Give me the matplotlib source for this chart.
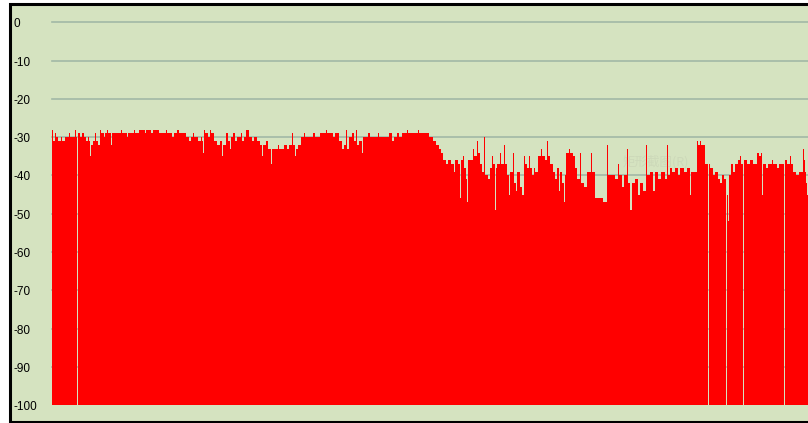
import numpy as np
import matplotlib
matplotlib.use('Agg')
import matplotlib.pyplot as plt
from matplotlib.patches import Rectangle

plt.rcParams['font.family'] = ['Liberation Sans', 'DejaVu Sans']

# signal level (dB) read off the chart as runs: (level, number of bars)
# -100 means no reading (empty column)
runs = [
    (-28, 1), (-31, 2), (-29, 1), (-30, 2), (-31, 3), (-30, 1), (-31, 3),
    (-30, 4), (-29, 1), (-30, 5), (-28, 1), (-30, 1), (-100, 1),
    (-29, 2), (-30, 2), (-29, 2), (-30, 2), (-31, 2), (-30, 1), (-31, 1),
    (-35, 1), (-32, 2), (-31, 2), (-29, 1), (-31, 2), (-32, 2),
    (-28, 1), (-29, 3), (-30, 1), (-29, 2), (-28, 1), (-29, 3), (-32, 1),
    (-29, 9), (-28, 1), (-29, 5), (-30, 1), (-29, 6), (-28, 1), (-29, 4),
    (-28, 6), (-29, 1), (-28, 5), (-29, 2), (-28, 6),
    (-29, 7), (-28, 1), (-29, 5), (-30, 2), (-29, 3), (-28, 2), (-29, 7),
    (-30, 3), (-31, 2), (-30, 2), (-29, 1), (-30, 4), (-31, 3), (-30, 1), (-31, 1),
    (-34, 1), (-28, 1), (-29, 3), (-30, 2), (-28, 1), (-29, 3),
    (-31, 3), (-32, 3), (-31, 2), (-35, 1), (-32, 3),
    (-29, 2), (-31, 2), (-33, 1), (-30, 2), (-29, 2), (-31, 2), (-30, 2),
    (-30, 2), (-29, 1), (-31, 2), (-30, 2), (-28, 3),
    (-30, 3), (-31, 2), (-30, 3), (-31, 3), (-32, 2), (-35, 1),
    (-32, 3), (-31, 2), (-33, 3), (-37, 1),
    (-33, 6), (-32, 1), (-33, 5), (-32, 3), (-33, 2), (-32, 3), (-29, 1),
    (-32, 2), (-35, 1), (-33, 2), (-32, 3),
    (-30, 3), (-29, 1), (-30, 8), (-29, 2), (-30, 5), (-29, 2),
    (-29, 4), (-28, 1), (-29, 6), (-30, 2), (-29, 4),
    (-31, 3), (-33, 2), (-32, 2), (-28, 1), (-33, 2),
    (-30, 3), (-29, 2), (-31, 2), (-28, 1), (-32, 2), (-31, 3), (-34, 1),
    (-30, 5), (-29, 2), (-30, 8), (-29, 1), (-30, 10),
    (-29, 3), (-31, 2), (-30, 3), (-29, 2), (-30, 3),
    (-29, 5), (-28, 1), (-29, 10), (-28, 1), (-29, 10),
    (-30, 3), (-31, 3), (-32, 3), (-33, 2), (-34, 2),
    (-36, 3), (-37, 2), (-36, 3), (-37, 3), (-39, 1), (-36, 3), (-37, 2), (-46, 1),
    (-36, 2), (-35, 1), (-38, 2), (-41, 1), (-47, 1), (-36, 5),
    (-33, 1), (-35, 3), (-31, 1), (-34, 2),
    (-37, 2), (-39, 2), (-30, 1), (-40, 3),
    (-41, 2), (-38, 2), (-35, 1), (-37, 2), (-49, 1), (-38, 1),
    (-37, 3), (-34, 1), (-37, 3), (-32, 1), (-37, 2),
    (-40, 2), (-45, 1), (-39, 3), (-34, 1), (-42, 2), (-44, 1), (-39, 3),
    (-43, 2), (-45, 2), (-35, 1), (-37, 2), (-38, 2), (-35, 1), (-38, 2),
    (-40, 2), (-38, 1), (-39, 3),
    (-35, 3), (-33, 1), (-35, 3), (-36, 2), (-31, 1), (-35, 2),
    (-37, 3), (-39, 2), (-41, 2), (-38, 2), (-44, 1), (-39, 2), (-42, 2), (-47, 1),
    (-40, 1), (-34, 3), (-33, 1), (-34, 3),
    (-35, 2), (-38, 2), (-41, 3), (-34, 1), (-42, 3), (-43, 3),
    (-39, 4), (-34, 1), (-39, 3), (-46, 8), (-47, 4), (-32, 1), (-40, 7),
    (-41, 3), (-37, 1), (-40, 3), (-43, 2), (-40, 3), (-33, 1), (-42, 2), (-49, 2),
    (-42, 3), (-41, 3), (-45, 2), (-42, 3), (-44, 3), (-32, 1),
    (-40, 3), (-39, 3), (-44, 2), (-39, 3), (-41, 3), (-39, 4),
    (-41, 2), (-32, 1),
    (-40, 2), (-38, 2), (-39, 3), (-38, 3), (-40, 2), (-38, 4), (-39, 3), (-38, 3),
    (-45, 1), (-39, 6), (-31, 1), (-32, 2), (-31, 1), (-32, 4), (-37, 3), (-100, 1),
    (-37, 1), (-38, 3), (-40, 2), (-39, 3), (-41, 2), (-42, 2), (-40, 2), (-41, 2),
    (-100, 1), (-45, 1), (-52, 1),
    (-40, 2), (-37, 2), (-39, 2), (-37, 3), (-36, 2), (-35, 1), (-37, 2), (-100, 1),
    (-36, 3), (-37, 3), (-36, 3), (-37, 4), (-34, 2), (-35, 2), (-34, 1), (-45, 1),
    (-37, 3), (-38, 2), (-37, 4), (-36, 1), (-37, 4), (-38, 2), (-37, 5), (-100, 1),
    (-36, 2), (-37, 3), (-35, 1), (-37, 2), (-39, 3), (-40, 3), (-39, 4),
    (-33, 1), (-36, 1), (-39, 1), (-42, 1), (-45, 1),
]

y_ticks = [0, -10, -20, -30, -40, -50, -60, -70, -80, -90, -100]
floor = -100

levels = np.repeat([r[0] for r in runs], [r[1] for r in runs]).astype(float)
n = len(levels)

W, H = 808, 423
fig = plt.figure(figsize=(W / 100, H / 100), dpi=100, facecolor='white')

# green panel with black frame (left/top/bottom)
panel = Rectangle((9.5 / W, 1.5 / H), 1.2, (421.5 - 4.5) / H, transform=fig.transFigure,
                  facecolor='#d5e3c0', edgecolor='black', linewidth=2.2, zorder=-10)
fig.patches.append(panel)

ax = fig.add_axes([52 / W, (H - 405.3) / H, 756 / W, 383 / H])
ax.set_facecolor('none')
ax.set_xlim(-0.5, n - 0.5)
ax.set_ylim(floor, 0)

for t in y_ticks[:-1]:
    ax.axhline(t, color='#a2b8a6', linewidth=1.2, zorder=1, clip_on=False)

x = np.arange(n)
ax.bar(x, levels - floor, bottom=floor, width=1.0, color='#ff0000',
       linewidth=0, antialiased=False, zorder=2)

ax.set_xticks([])
ax.set_yticks([])
for s in ax.spines.values():
    s.set_visible(False)

for t in y_ticks:
    ax.text((14 - 52) / 756, t - 0.5, str(t), transform=ax.get_yaxis_transform(),
            ha='left', va='center', fontsize=8.5, color='black', clip_on=False)

# faint watermark left over from the screenshot tool
fig.text(623 / W, 1 - 162 / H, '矩形截图(R)', fontsize=9, color='#808080', alpha=0.1,
         family=['Noto Sans CJK SC', 'DejaVu Sans'], va='center', ha='left', zorder=5)

fig.savefig('out.png', dpi=100, facecolor='white')
